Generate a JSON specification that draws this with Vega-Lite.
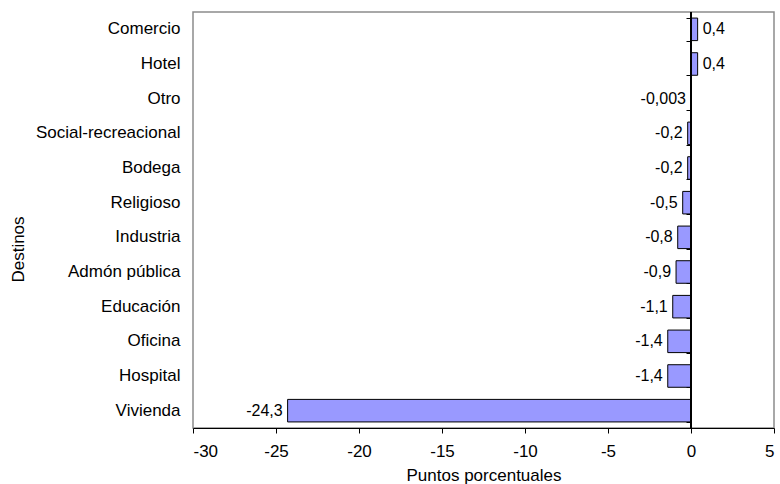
{
  "$schema": "https://vega.github.io/schema/vega-lite/v6.json",
  "width": 581,
  "height": 416,
  "autosize": {"type": "none"},
  "padding": {"left": 193, "top": 12, "right": 6, "bottom": 56},
  "config": {
    "font": "Liberation Sans",
    "view": {"stroke": "#8c8c8c", "strokeWidth": 1.5},
    "axis": {"grid": false, "labelColor": "black", "titleColor": "black", "labelFontSize": 17, "titleFontSize": 17, "titleFontWeight": "normal"}
  },
  "data": {
    "values": [
      {"destino": "Comercio", "valor": 0.4, "etiqueta": "0,4"},
      {"destino": "Hotel", "valor": 0.4, "etiqueta": "0,4"},
      {"destino": "Otro ", "valor": -0.003, "etiqueta": "-0,003"},
      {"destino": "Social-recreacional", "valor": -0.2, "etiqueta": "-0,2"},
      {"destino": "Bodega", "valor": -0.2, "etiqueta": "-0,2"},
      {"destino": "Religioso", "valor": -0.5, "etiqueta": "-0,5"},
      {"destino": "Industria", "valor": -0.8, "etiqueta": "-0,8"},
      {"destino": "Admón pública", "valor": -0.9, "etiqueta": "-0,9"},
      {"destino": "Educación", "valor": -1.1, "etiqueta": "-1,1"},
      {"destino": "Oficina", "valor": -1.4, "etiqueta": "-1,4"},
      {"destino": "Hospital", "valor": -1.4, "etiqueta": "-1,4"},
      {"destino": "Vivienda", "valor": -24.3, "etiqueta": "-24,3"}
    ]
  },
  "layer": [
    {
      "mark": {"type": "bar", "fill": "#9999FF", "stroke": "black", "strokeWidth": 1},
      "encoding": {
        "y": {
          "field": "destino", "type": "nominal", "sort": null,
          "scale": {"paddingInner": 0.35, "paddingOuter": 0.175},
          "axis": {"orient": "left", "domain": false, "ticks": false, "labelPadding": 13, "title": "Destinos", "titleX": -175, "titleY": 237, "titleAngle": -90, "titleAlign": "center", "titleBaseline": "middle"}
        },
        "x": {
          "field": "valor", "type": "quantitative",
          "scale": {"domain": [-30, 5], "nice": false, "zero": false},
          "axis": {"values": [-30, -25, -20, -15, -10, -5, 0, 5], "labelExpr": "'' + datum.value", "domainColor": "black", "tickColor": "black", "tickSize": 5, "labelPadding": 10, "title": "Puntos porcentuales", "titlePadding": 8}
        }
      }
    },
    {
      "mark": {"type": "point", "opacity": 0, "size": 1},
      "encoding": {
        "y": {
          "field": "destino", "type": "nominal", "sort": null,
          "axis": {"orient": "right", "offset": -88, "labels": false, "ticks": true, "tickBand": "extent", "tickSize": 5, "tickColor": "black", "tickWidth": 1, "domain": false, "title": null}
        },
        "x": {"field": "valor", "type": "quantitative"}
      }
    },
    {
      "mark": {"type": "rule", "color": "black", "strokeWidth": 1},
      "encoding": {"x": {"datum": 0}}
    },
    {
      "transform": [{"filter": "datum.valor > 0"}],
      "mark": {"type": "text", "align": "left", "baseline": "middle", "dx": 5, "fontSize": 16, "color": "black"},
      "encoding": {
        "y": {"field": "destino", "type": "nominal", "sort": null, "axis": null},
        "x": {"field": "valor", "type": "quantitative"},
        "text": {"field": "etiqueta"}
      }
    },
    {
      "transform": [{"filter": "datum.valor <= 0"}],
      "mark": {"type": "text", "align": "right", "baseline": "middle", "dx": -5, "fontSize": 16, "color": "black"},
      "encoding": {
        "y": {"field": "destino", "type": "nominal", "sort": null, "axis": null},
        "x": {"field": "valor", "type": "quantitative"},
        "text": {"field": "etiqueta"}
      }
    }
  ],
  "resolve": {"axis": {"y": "independent"}}
}
